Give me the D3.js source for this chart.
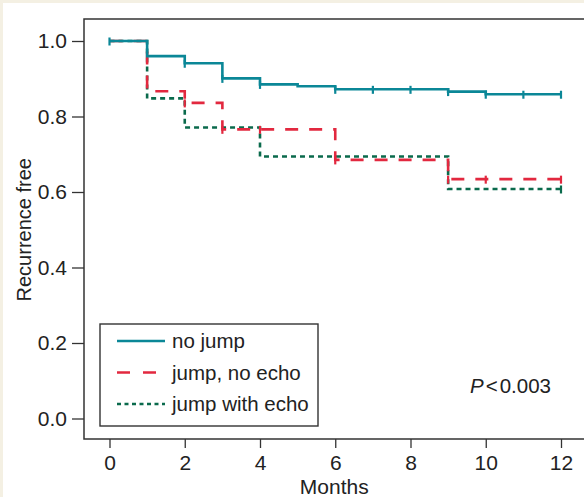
<!DOCTYPE html>
<html>
<head>
<meta charset="utf-8">
<script src="https://cdn.jsdelivr.net/npm/d3@7"></script>
<style>
  body { margin: 0; background: #fff; }
  svg text { font-family: "Liberation Sans", Arial, sans-serif; fill: #222; }
</style>
</head>
<body>
<svg id="mainsvg" width="584" height="497"></svg>
<script>
// tick values
const xTicks = [0, 2, 4, 6, 8, 10, 12];
const yTicks = [0.0, 0.2, 0.4, 0.6, 0.8, 1.0];

// step curves: times where the curve changes, and the value from that time on
const noJumpT = [0, 1, 2, 3, 4, 5, 6, 9, 10, 12];
const noJumpS = [1.0, 0.960, 0.941, 0.901, 0.885, 0.880, 0.872, 0.866, 0.859, 0.859];
const noJumpCens = [0, 2, 3, 4, 6, 7, 8, 9, 10, 11, 12];

const noEchoT = [0, 1, 2, 3, 6, 9, 12];
const noEchoS = [1.0, 0.867, 0.836, 0.766, 0.685, 0.634, 0.634];
const noEchoCens = [2, 3, 4, 6, 9, 10, 12];

const echoT = [0, 1, 2, 4, 9, 12];
const echoS = [1.0, 0.848, 0.771, 0.694, 0.608, 0.608];
const echoCens = [12];

const seriesNames = ['no jump', 'jump, no echo', 'jump with echo'];
const colors = ['#0b8797', '#e2283f', '#0a6a4c'];
const dashes = [null, '13,11', '5,4'];

const svg = d3.select('#mainsvg');
const width = +svg.attr('width');
const height = +svg.attr('height');

// page background: thin beige frame top/left
svg.append('rect').attr('width', width).attr('height', height).attr('fill', '#f4f0e3');
svg.append('rect').attr('x', 3).attr('y', 3).attr('width', width).attr('height', height).attr('fill', '#fff');

const x = d3.scaleLinear().domain([0, 12]).range([109.5, 561]);
const y = d3.scaleLinear().domain([0, 1]).range([418.5, 41]);

const frame = { left: 84, top: 19, bottom: 439 };

// axes
const yAxis = svg.append('g')
  .attr('transform', `translate(${frame.left},0)`)
  .call(d3.axisLeft(y).tickValues(yTicks).tickFormat(d3.format('.1f')).tickSize(12).tickPadding(5));
const xAxis = svg.append('g')
  .attr('transform', `translate(0,${frame.bottom})`)
  .call(d3.axisBottom(x).tickValues(xTicks).tickSize(9).tickPadding(7));
[yAxis, xAxis].forEach(a => {
  a.select('.domain').remove();
  a.selectAll('line').attr('stroke', '#333').attr('stroke-width', 1.3);
  a.selectAll('text').attr('font-size', 21).attr('fill', '#222');
});

// frame lines (left, top, bottom; open at right)
svg.append('path')
  .attr('d', `M${width},${frame.top}H${frame.left}V${frame.bottom}H${width}`)
  .attr('fill', 'none').attr('stroke', '#333').attr('stroke-width', 1.5);

// axis titles
svg.append('text')
  .attr('x', x(6) - 1).attr('y', 494)
  .attr('text-anchor', 'middle').attr('font-size', 21)
  .text('Months');
svg.append('text')
  .attr('transform', `translate(31,${(y(0) + y(1)) / 2}) rotate(-90)`)
  .attr('text-anchor', 'middle').attr('font-size', 20)
  .text('Recurrence free');

// curves
const line = d3.line()
  .x(d => x(d[0]))
  .y(d => y(d[1]))
  .curve(d3.curveStepAfter);

const series = [
  { t: noJumpT, s: noJumpS, c: noJumpCens },
  { t: noEchoT, s: noEchoS, c: noEchoCens },
  { t: echoT, s: echoS, c: echoCens },
];

const stepAt = (sr, tm) => {
  let v = sr.s[0];
  sr.t.forEach((t, i) => { if (t <= tm) v = sr.s[i]; });
  return v;
};

// draw green first, then red, teal on top
[2, 1, 0].forEach(i => {
  const sr = series[i];
  const pts = sr.t.map((t, j) => [t, sr.s[j]]);
  svg.append('path')
    .attr('d', line(pts))
    .attr('fill', 'none')
    .attr('stroke', colors[i])
    .attr('stroke-width', 2.6)
    .attr('stroke-dasharray', dashes[i]);
  svg.append('g').selectAll('line')
    .data(sr.c)
    .join('line')
    .attr('x1', d => x(d)).attr('x2', d => x(d))
    .attr('y1', d => y(stepAt(sr, d)) - 3.5)
    .attr('y2', d => y(stepAt(sr, d)) + 4.5)
    .attr('stroke', colors[i])
    .attr('stroke-width', 2.2);
});

// legend
const legend = svg.append('g');
legend.append('rect')
  .attr('x', 100).attr('y', 324).attr('width', 218).attr('height', 102)
  .attr('fill', '#fff').attr('stroke', '#333').attr('stroke-width', 1.4);
seriesNames.forEach((name, i) => {
  const ly = 341 + i * 31.5;
  legend.append('line')
    .attr('x1', 117).attr('x2', 165).attr('y1', ly).attr('y2', ly)
    .attr('stroke', colors[i]).attr('stroke-width', 2.6)
    .attr('stroke-dasharray', i === 1 ? '13,13' : (i === 2 ? '4,3.5' : null));
  legend.append('text')
    .attr('x', 172).attr('y', ly + 7)
    .attr('font-size', 20.5)
    .text(name);
});

// p-value
const pv = svg.append('text').attr('x', 470).attr('y', 393).attr('font-size', 20.5);
pv.append('tspan').attr('font-style', 'italic').text('P');
pv.append('tspan').attr('dx', 2).text('<');
pv.append('tspan').attr('dx', 2).text('0.003');
</script>
</body>
</html>
